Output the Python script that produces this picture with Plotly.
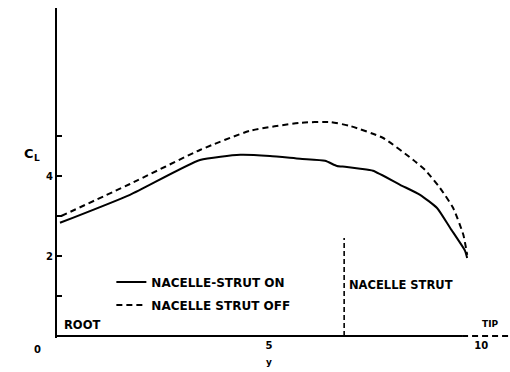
import plotly.graph_objects as go

# Spanwise lift distribution, nacelle-strut on / off
span_on = [0.07, 1.72, 3.37, 4.32, 5.02, 5.73, 6.32, 6.60, 6.79, 7.15, 7.45, 8.09, 8.56, 8.96, 9.27, 9.62, 9.67]
cl_on = [2.83, 3.53, 4.40, 4.53, 4.50, 4.43, 4.38, 4.25, 4.23, 4.18, 4.13, 3.78, 3.53, 3.20, 2.70, 2.13, 1.95]

span_off = [0.10, 1.72, 3.37, 4.55, 5.73, 6.44, 6.91, 7.69, 8.40, 8.68, 9.03, 9.34, 9.58, 9.67]
cl_off = [3.00, 3.80, 4.65, 5.13, 5.33, 5.35, 5.25, 4.95, 4.40, 4.15, 3.70, 3.20, 2.53, 2.03]

strut_station = 6.77
strut_marker_top = 2.45

y_labelled_ticks = [2, 4]
y_unlabelled_ticks = [1, 3, 5]
x_ticks = [5, 10]
x_ticktext = ["5", "10"]

FONT = "DejaVu Sans"
X_MAX = 10.68
Y_MIN, Y_MAX = -0.05, 8.2

fig = go.Figure()

fig.add_trace(go.Scatter(
    x=span_on, y=cl_on, mode="lines", name="<b>NACELLE-STRUT ON</b>",
    line=dict(color="black", width=2, shape="spline", smoothing=0.5), legendgroup="on",
))
fig.add_trace(go.Scatter(
    x=span_off, y=cl_off, mode="lines", name="<b>NACELLE STRUT OFF</b>",
    line=dict(color="black", width=2, dash="6px,4px", shape="spline", smoothing=0.5),
    legendgroup="off",
))
# strut station marker (drawn on the overlaid CL axis, which has the same range)
fig.add_trace(go.Scatter(
    x=[strut_station, strut_station], y=[0, strut_marker_top], mode="lines",
    line=dict(color="black", width=1.6, dash="5px,3px"), showlegend=False,
    yaxis="y2",
))

# x axis baseline: solid out to the tip, dashed beyond
fig.add_shape(type="line", xref="x", yref="y", x0=0, x1=9.55, y0=0, y1=0,
              line=dict(color="black", width=2))
fig.add_shape(type="line", xref="x", yref="y", x0=9.55, x1=X_MAX, y0=0, y1=0,
              line=dict(color="black", width=2, dash="6px,4px"))

txt = dict(family=FONT, size=11.5, color="black")
fig.add_annotation(x=0.12, y=0.28, text="<b>ROOT</b>", showarrow=False,
                   xanchor="left", yanchor="middle", font=txt)
fig.add_annotation(x=strut_station + 0.06, y=1.28, text="<b>NACELLE STRUT</b>",
                   showarrow=False, xanchor="left", yanchor="middle", font=txt)
fig.add_annotation(x=10.2, y=0.3, text="<b>TIP</b>", showarrow=False,
                   xanchor="center", yanchor="middle", font=dict(family=FONT, size=9, color="black"))

# labels sitting outside the plotting area; C_L as a letter plus a lowered subscript
fig.add_annotation(xref="paper", yref="paper", x=-0.0618, y=0.5606, text="<b>C</b>",
                   showarrow=False, xanchor="center", yanchor="middle",
                   font=dict(family=FONT, size=13, color="black"))
fig.add_annotation(xref="paper", yref="paper", x=-0.0442, y=0.5455, text="<b>L</b>",
                   showarrow=False, xanchor="center", yanchor="middle",
                   font=dict(family=FONT, size=9, color="black"))
fig.add_annotation(xref="paper", yref="paper", x=-0.042, y=-0.036, text="<b>0</b>",
                   showarrow=False, xanchor="center", yanchor="middle",
                   font=dict(family=FONT, size=10, color="black"))
fig.add_annotation(xref="paper", yref="paper", x=0.468, y=-0.073, text="<b>y</b>",
                   showarrow=False, xanchor="center", yanchor="middle",
                   font=dict(family=FONT, size=9, color="black"))

fig.update_layout(
    width=510, height=372,
    margin=dict(l=57, r=0, t=8, b=34),
    paper_bgcolor="white", plot_bgcolor="white",
    font=dict(family=FONT, color="black"),
    showlegend=True,
    legend=dict(
        x=0.12, y=0.214, xanchor="left", yanchor="top",
        bgcolor="rgba(0,0,0,0)", font=dict(family=FONT, size=12, color="black"),
        tracegroupgap=4, itemwidth=30,
    ),
    xaxis=dict(
        range=[0, X_MAX], showgrid=False, zeroline=False, showline=False,
        tickvals=x_ticks, ticktext=[f"<b>{t}</b>" for t in x_ticktext],
        ticks="", tickfont=dict(family=FONT, size=10, color="black"),
    ),
    yaxis=dict(
        range=[Y_MIN, Y_MAX], showgrid=False, zeroline=False,
        showline=True, linecolor="black", linewidth=2,
        tickvals=y_labelled_ticks, ticktext=[f"<b>{t}</b>" for t in y_labelled_ticks],
        ticks="inside", ticklen=5, tickwidth=2, tickcolor="black",
        tickfont=dict(family=FONT, size=10, color="black"),
    ),
    # unlabelled intermediate ticks on an overlaid copy of the CL axis
    yaxis2=dict(
        overlaying="y", side="left", range=[Y_MIN, Y_MAX],
        showgrid=False, zeroline=False, showline=False,
        tickvals=y_unlabelled_ticks, showticklabels=False,
        ticks="inside", ticklen=5, tickwidth=2, tickcolor="black",
    ),
)

fig.write_html("out.html")
